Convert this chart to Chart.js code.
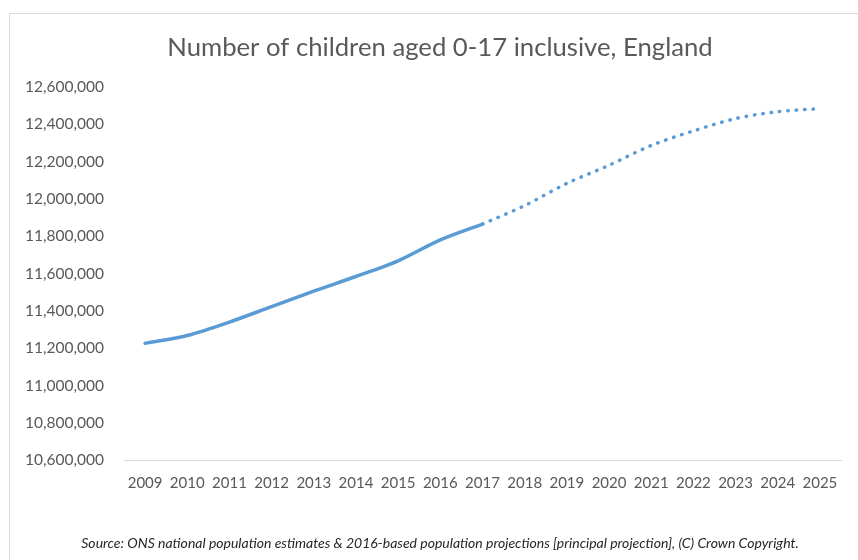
<!DOCTYPE html>
<html>
<head>
<meta charset="utf-8">
<script src="https://cdn.jsdelivr.net/npm/chart.js@4"></script>
<style>
	html, body {
		margin: 0;
		padding: 0;
		width: 858px;
		height: 560px;
		overflow: hidden;
		background: #ffffff;
	}
	.moldura {
		position: absolute;
		left: 9px;
		top: 13px;
		width: 862px;
		height: 547px;
		border-left: 1px solid #d9d9d9;
		border-top: 1px solid #d9d9d9;
		box-sizing: border-box;
	}
	.grafico-criancas {
		position: absolute;
		left: 0px;
		top: 13px;
	}
</style>
</head>
<body>
<div class="moldura"></div>
<canvas class="grafico-criancas" width="871" height="547"></canvas>
<script>
const anos = ['2009', '2010', '2011', '2012', '2013', '2014', '2015', '2016', '2017',
	'2018', '2019', '2020', '2021', '2022', '2023', '2024', '2025'];

// ONS estimates 2009-2017
const estimativas = [11226000, 11268000, 11340000, 11423000, 11506000, 11584000, 11668000, 11780000, 11865000];

// 2016-based projections 2018-2025
const projecoes = [11964000, 12083000, 12180000, 12286000, 12364000, 12430000, 12467000, 12483000];

const ticksY = [10600000, 10800000, 11000000, 11200000, 11400000, 11600000,
	11800000, 12000000, 12200000, 12400000, 12600000];

const azul = '#5b9bd5';

function criarGrafico() {
	const dadosEstimativas = anos.map((a, i) => i < estimativas.length ? estimativas[i] : null);
	const ultimo = estimativas.length - 1;
	const dadosProjecoes = anos.map((a, i) => {
		if (i < ultimo) return null;
		if (i === ultimo) return estimativas[ultimo];
		return projecoes[i - estimativas.length];
	});

	const ctx = document.querySelector('.grafico-criancas').getContext('2d');
	new Chart(ctx, {
		type: 'line',
		data: {
			labels: anos,
			datasets: [
				{
					label: 'Estimates',
					data: dadosEstimativas,
					borderColor: azul,
					borderWidth: 3.5,
					borderCapStyle: 'round',
					pointRadius: 0,
					fill: false,
					tension: 0.3
				},
				{
					label: 'Projections',
					data: dadosProjecoes,
					borderColor: azul,
					borderWidth: 3.5,
					borderCapStyle: 'round',
					borderDash: [0.5, 7.9],
					pointRadius: 0,
					fill: false,
					tension: 0.3
				}
			]
		},
		options: {
			responsive: false,
			animation: false,
			layout: {
				padding: { left: 13, right: 4, top: 0, bottom: 0 }
			},
			scales: {
				x: {
					offset: true,
					grid: { display: false, drawTicks: false },
					border: { display: true, color: '#d9d9d9', width: 1 },
					ticks: {
						color: '#595959',
						padding: 14,
						maxRotation: 0,
						autoSkip: false,
						font: { family: 'Lato', size: 15 }
					}
				},
				y: {
					min: 10600000,
					max: 12600000,
					afterFit: (scale) => { scale.width = 111; },
					afterBuildTicks: (scale) => { scale.ticks = ticksY.map(v => ({ value: v })); },
					grid: { display: false, drawTicks: false },
					border: { display: false },
					ticks: {
						color: '#595959',
						padding: 20,
						font: { family: 'Lato', size: 15.5 },
						callback: (v) => v.toLocaleString('en-US')
					}
				},
				// empty space on the right so the title stays centred on the frame
				espaco: {
					position: 'right',
					min: 10600000,
					max: 12600000,
					afterFit: (scale) => { scale.width = 26; },
					grid: { display: false, drawTicks: false },
					border: { display: false },
					ticks: { display: false }
				}
			},
			plugins: {
				legend: { display: false },
				tooltip: { enabled: false },
				title: {
					display: true,
					text: 'Number of children aged 0-17 inclusive, England',
					color: '#595959',
					font: { family: 'Lato', size: 25.7, weight: 'normal' },
					padding: { top: 19, bottom: 24 }
				},
				subtitle: {
					display: true,
					position: 'bottom',
					text: 'Source: ONS national population estimates & 2016-based population projections [principal projection], (C) Crown Copyright.',
					color: '#262626',
					font: { family: 'Lato', size: 14, style: 'italic' },
					padding: { top: 29, bottom: 8 }
				}
			}
		}
	});
}

window.onload = criarGrafico;
</script>
</body>
</html>
